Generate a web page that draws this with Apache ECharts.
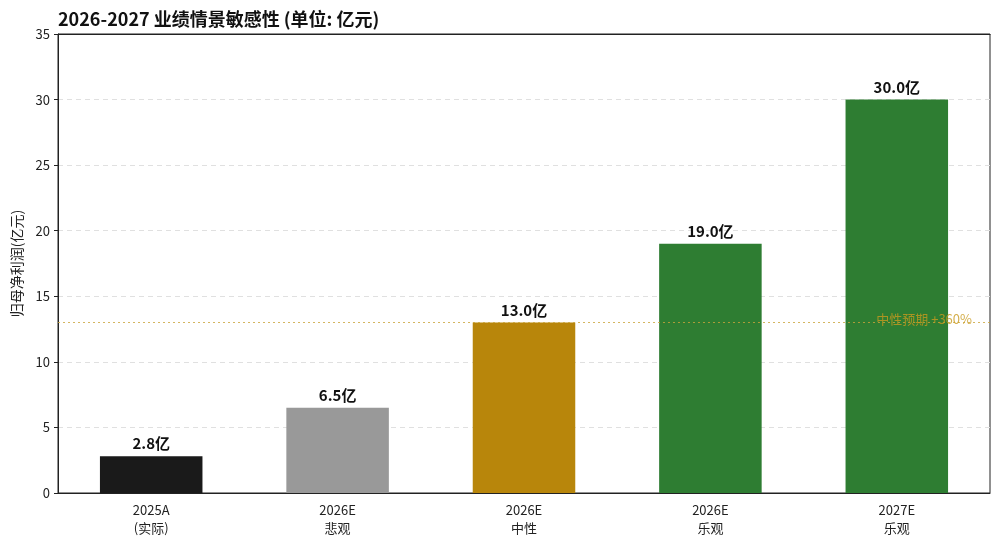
<!DOCTYPE html>
<html>
<head>
<meta charset="utf-8">
<style>
  html, body { margin: 0; padding: 0; background: #fff; }
  #main { width: 1000px; height: 546px; }
</style>
<script src="https://cdn.jsdelivr.net/npm/echarts@6/dist/echarts.min.js"></script>
</head>
<body>
<div id="main"></div>
<script>
// 数据
var categories = ['2025A\n(实际)', '2026E\n悲观', '2026E\n中性', '2026E\n乐观', '2027E\n乐观'];
var profitValues = [2.8, 6.5, 13.0, 19.0, 30.0];
var barColors = ['#1a1a1a', '#999999', '#b8860b', '#2e7d32', '#2e7d32'];
var neutralLine = 13.0;
var neutralLabel = '中性预期 +360%';
var yTicks = [0, 5, 10, 15, 20, 25, 30, 35];

var font = 'Noto Sans CJK SC';
var myChart = echarts.init(document.getElementById('main'));

var seriesData = [];
for (var i = 0; i < profitValues.length; i++) {
    seriesData.push({
        value: profitValues[i],
        itemStyle: { color: barColors[i] }
    });
}

var option = {
    animation: false,
    textStyle: { fontFamily: font },
    title: {
        text: '2026-2027 业绩情景敏感性 (单位: 亿元)',
        left: 53,
        top: 5,
        textStyle: { fontFamily: font, fontSize: 18, fontWeight: 'bold', color: '#111' }
    },
    grid: {
        left: 58,
        right: 10,
        top: 34,
        bottom: 53,
        show: true,
        borderColor: '#222',
        borderWidth: 1,
        backgroundColor: 'transparent'
    },
    xAxis: [
        {
            type: 'category',
            data: categories,
            axisLine: { lineStyle: { color: '#222' } },
            axisTick: { alignWithLabel: true, length: 4, lineStyle: { color: '#222' } },
            axisLabel: { color: '#222', fontSize: 13, lineHeight: 18, margin: 8 },
            splitLine: { show: false }
        },
        {
            // 顶部边框(盖住35处的虚线)
            type: 'category',
            position: 'top',
            data: categories,
            axisLine: { show: true, lineStyle: { color: '#222' } },
            axisTick: { show: false },
            axisLabel: { show: false },
            splitLine: { show: false }
        }
    ],
    yAxis: {
        type: 'value',
        min: yTicks[0],
        max: yTicks[yTicks.length - 1],
        interval: 5,
        name: '归母净利润(亿元)',
        nameLocation: 'middle',
        nameGap: 34,
        nameTextStyle: { fontSize: 14, color: '#222' },
        axisLine: { show: true, lineStyle: { color: '#222' } },
        axisTick: { show: true, length: 4, lineStyle: { color: '#222' } },
        axisLabel: { color: '#222', fontSize: 13, margin: 8 },
        splitLine: { show: true, lineStyle: { color: '#e0e0e0', type: [5, 4] } }
    },
    series: [
        {
            type: 'bar',
            data: seriesData,
            barWidth: '55%',
            label: {
                show: true,
                position: 'top',
                distance: 5,
                formatter: function (p) { return p.value.toFixed(1) + '亿'; },
                fontSize: 15,
                fontWeight: 'bold',
                color: '#111'
            },
            markLine: {
                silent: true,
                symbol: 'none',
                lineStyle: { color: '#c9a43a', type: [2, 3], width: 1, opacity: 0.8 },
                label: {
                    show: true,
                    position: 'insideEndTop',
                    distance: [18, -3],
                    formatter: neutralLabel,
                    color: '#c99a1e',
                    fontSize: 13
                },
                data: [{ yAxis: neutralLine }]
            }
        }
    ]
};
myChart.setOption(option);
</script>
</body>
</html>
